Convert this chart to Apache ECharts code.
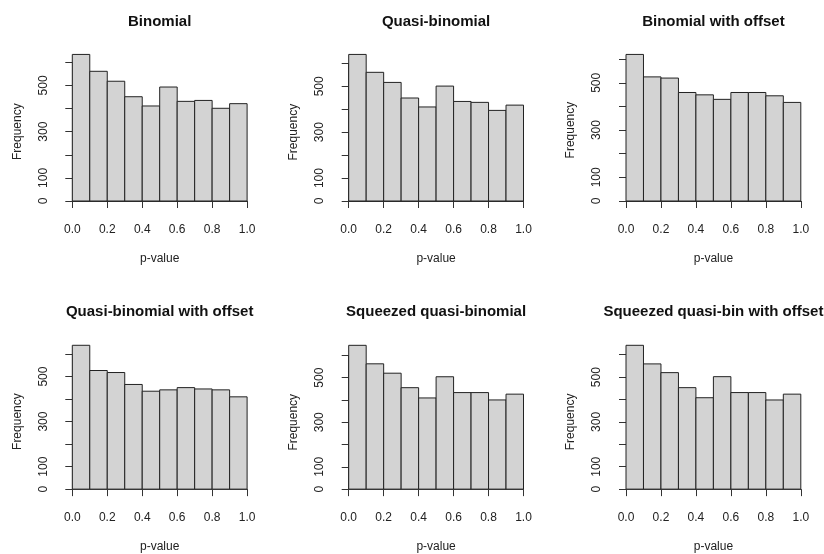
<!DOCTYPE html>
<html>
<head>
<meta charset="utf-8">
<script src="https://cdn.jsdelivr.net/npm/echarts@6/dist/echarts.min.js"></script>
<style>
html,body{margin:0;padding:0;background:#fff;}
#chart{width:824px;height:554px;}
</style>
</head>
<body>
<div id="chart"></div>
<script>
// ---- data ----
const panelTitles = [
  'Binomial', 'Quasi-binomial', 'Binomial with offset',
  'Quasi-binomial with offset', 'Squeezed quasi-binomial', 'Squeezed quasi-bin with offset'
];
const binEdges = [0, 0.1, 0.2, 0.3, 0.4, 0.5, 0.6, 0.7, 0.8, 0.9, 1.0];
const binomial        = [634, 561, 518, 451, 411, 493, 431, 435, 401, 421];
const quasiBinomial   = [639, 561, 517, 449, 410, 501, 434, 430, 395, 418];
const binomialOffset  = [620, 525, 520, 459, 449, 430, 459, 459, 445, 417];
const quasiBinOffset  = [639, 527, 518, 465, 435, 441, 451, 445, 441, 410];
const squeezedQB      = [645, 562, 520, 455, 409, 504, 433, 433, 400, 426];
const squeezedQBOff   = [642, 559, 520, 453, 408, 502, 431, 431, 398, 424];
const xTickLabels = ['0.0', '0.2', '0.4', '0.6', '0.8', '1.0'];
const yTickLabelsShown = ['0', '100', '300', '500'];
const xAxisTitle = 'p-value';
const yAxisTitle = 'Frequency';

const panelCounts = [binomial, quasiBinomial, binomialOffset, quasiBinOffset, squeezedQB, squeezedQBOff];

// ---- layout ----
const colLeft = [72.3, 348.7, 626];
const colWidth = 174.8;
const rowZero = [201, 491.7];
const titleTop = [14.5, 304.5];
const plotH = 158.3;
const yTop = 600;
const FONT = 'Liberation Sans, Arial, sans-serif';

const chart = echarts.init(document.getElementById('chart'), null, {renderer: 'canvas'});

function renderBar(params, api) {
  const x0 = api.value(0), x1 = api.value(1), y = api.value(2);
  const pTop = api.coord([x0, y]);
  const pBot = api.coord([x1, 0]);
  return {
    type: 'rect',
    shape: {x: pTop[0], y: pTop[1], width: pBot[0] - pTop[0], height: pBot[1] - pTop[1]},
    style: {fill: '#d3d3d3', stroke: '#222', lineWidth: 1}
  };
}

const grids = [], xAxes = [], yAxes = [], series = [], titles = [];
panelCounts.forEach((counts, i) => {
  const col = i % 3, row = Math.floor(i / 3);
  const maxC = Math.max(...counts);
  const gH = yTop * plotH / (1.08 * maxC);
  const top = rowZero[row] - gH;
  const xOff = plotH * 0.04 / 1.08;
  const yOff = colWidth * 0.04;
  grids.push({left: colLeft[col], top: top, width: colWidth, height: gH, containLabel: false});
  xAxes.push({
    type: 'value', gridIndex: i, min: 0, max: 1, interval: 0.2, offset: xOff,
    splitLine: {show: false},
    axisLine: {show: true, lineStyle: {color: '#333', width: 1}},
    axisTick: {show: true, length: 7, lineStyle: {color: '#333', width: 1}},
    axisLabel: {margin: 17, color: '#222', fontSize: 12, fontFamily: FONT,
      formatter: v => xTickLabels[Math.round(v / 0.2)]},
    name: xAxisTitle, nameLocation: 'middle', nameGap: 46,
    nameTextStyle: {color: '#222', fontSize: 12, fontFamily: FONT}
  });
  yAxes.push({
    type: 'value', gridIndex: i, min: 0, max: yTop, interval: 100, offset: yOff,
    splitLine: {show: false},
    axisLine: {show: true, lineStyle: {color: '#333', width: 1}},
    axisTick: {show: true, length: 7, lineStyle: {color: '#333', width: 1}},
    axisLabel: {margin: 16, rotate: 90, color: '#222', fontSize: 12, fontFamily: FONT,
      formatter: v => yTickLabelsShown.includes(String(v)) ? String(v) : ''},
    name: yAxisTitle, nameLocation: 'middle', nameGap: 42, nameRotate: 90,
    nameTextStyle: {color: '#222', fontSize: 12, fontFamily: FONT}
  });
  series.push({
    type: 'custom', xAxisIndex: i, yAxisIndex: i, clip: false,
    renderItem: renderBar,
    encode: {x: [0, 1], y: 2},
    data: counts.map((c, k) => [binEdges[k], binEdges[k + 1], c])
  });
  titles.push({
    text: panelTitles[i],
    left: colLeft[col] + colWidth / 2, top: titleTop[row],
    textAlign: 'center', padding: 0,
    textStyle: {fontSize: 15, fontWeight: 'bold', color: '#111', fontFamily: FONT}
  });
});

chart.setOption({
  animation: false,
  backgroundColor: '#fff',
  title: titles,
  grid: grids,
  xAxis: xAxes,
  yAxis: yAxes,
  series: series
});
</script>
</body>
</html>
